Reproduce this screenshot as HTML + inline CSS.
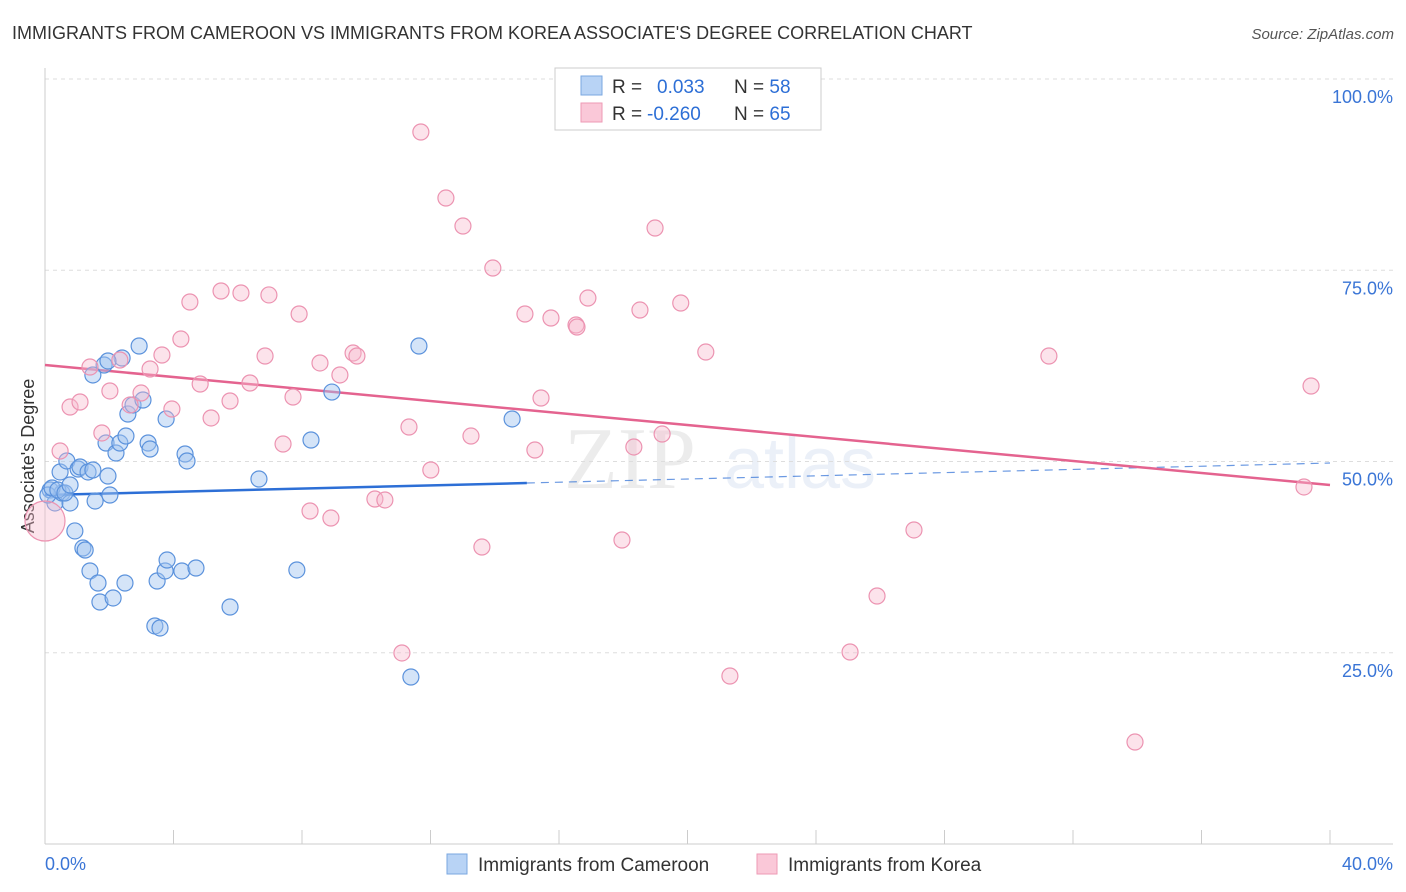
<!DOCTYPE html>
<html><head><meta charset="utf-8"><style>
body{margin:0;background:#fff;font-family:"Liberation Sans",sans-serif;}
svg{display:block}
</style></head><body>
<svg id="chart" width="1406" height="892" xmlns="http://www.w3.org/2000/svg">
<text x="12" y="39" font-size="18" fill="#333">IMMIGRANTS FROM CAMEROON VS IMMIGRANTS FROM KOREA ASSOCIATE'S DEGREE CORRELATION CHART</text>
<text x="1394" y="39" font-size="15" fill="#555" font-style="italic" text-anchor="end">Source: ZipAtlas.com</text>
<text transform="translate(34,456) rotate(-90)" font-size="18" fill="#333" text-anchor="middle">Associate's Degree</text>
<g opacity="0.13">
<text x="630" y="488" font-size="88" font-family="Liberation Serif,serif" fill="#777" text-anchor="middle">ZIP</text>
<text x="800" y="488" font-size="72" fill="#6a8fd0" text-anchor="middle">atlas</text>
</g>
<g id="grid"></g>
<g id="axes"></g>
<g id="trends"></g>
<g id="points"></g>
<g>
<rect x="555" y="68" width="266" height="62" fill="#fff" stroke="#ccc"/>
<rect x="581" y="76" width="21" height="19" fill="#b8d3f5" stroke="#7aa7e0"/>
<rect x="581" y="103" width="21" height="19" fill="#fac8d8" stroke="#ee9ab5"/>
<text x="612" y="93" font-size="19" fill="#333">R = <tspan x="657" fill="#2d6fd6">0.033</tspan><tspan x="734" fill="#333">N = </tspan><tspan fill="#2d6fd6">58</tspan></text>
<text x="612" y="120" font-size="19" fill="#333">R = <tspan x="647" fill="#2d6fd6">-0.260</tspan><tspan x="734" fill="#333">N = </tspan><tspan fill="#2d6fd6">65</tspan></text>
</g>
<g>
<rect x="447" y="854" width="20" height="20" fill="#b8d3f5" stroke="#7aa7e0"/>
<text x="478" y="871" font-size="19" fill="#333">Immigrants from Cameroon</text>
<rect x="757" y="854" width="20" height="20" fill="#fac8d8" stroke="#ee9ab5"/>
<text x="788" y="871" font-size="19" fill="#333">Immigrants from Korea</text>
</g>
</svg>
<script>
const blueX=[0.16,0.31,0.47,0.53,0.68,0.78,0.93,1.03,1.09,1.18,1.25,1.34,1.40,1.49,1.56,1.65,1.71,1.84,1.90,1.96,2.02,2.12,2.21,2.33,2.40,2.49,2.52,2.58,2.74,2.93,3.05,3.21,3.27,3.42,3.49,3.58,3.74,3.77,3.80,4.26,4.36,4.42,4.70,5.76,6.66,7.84,8.28,8.93,11.39,11.64,14.54,1.49,0.09,0.22,0.40,0.62,1.96,0.78];
const blueY=[46.27,44.58,48.63,45.88,50.07,44.58,40.92,49.02,49.28,38.69,38.43,48.63,35.69,48.89,44.84,34.12,31.63,62.61,52.42,48.10,45.62,32.16,51.11,52.42,63.53,34.12,53.33,56.21,57.39,65.10,58.04,52.42,51.63,28.50,34.38,28.24,35.69,55.56,37.12,35.69,50.98,50.07,36.08,30.98,47.71,35.82,52.81,59.08,21.83,65.10,55.56,61.31,45.62,46.54,46.27,45.88,63.14,46.93];
const pinkX=[0,0.47,0.78,1.09,1.40,1.77,2.02,2.33,2.65,2.99,3.27,3.64,3.95,4.23,4.51,4.83,5.17,5.48,5.76,6.10,6.38,6.85,6.97,7.41,7.72,7.91,8.25,8.56,8.90,9.18,9.59,9.71,10.27,10.58,11.11,11.33,11.70,12.01,12.48,13.01,13.26,13.60,13.94,14.94,15.25,15.44,15.75,16.53,16.56,16.90,17.96,18.33,18.52,18.99,19.21,19.79,20.57,21.32,25.06,25.90,27.05,31.25,33.93,39.19,39.41];
const pinkY=[42.22,51.37,57.12,57.78,62.35,53.73,59.22,63.27,57.39,58.95,62.09,63.92,56.86,66.01,70.85,60.13,55.69,72.29,57.91,72.03,60.26,63.79,71.77,52.29,58.43,69.28,43.53,62.88,42.61,61.31,64.18,63.79,45.10,44.97,24.97,54.51,93.07,48.89,84.44,80.78,53.33,38.82,75.29,69.28,51.50,58.30,68.76,67.84,67.58,71.37,39.74,51.90,69.80,80.52,53.59,70.72,64.31,21.96,25.10,32.42,41.05,63.79,13.33,46.67,59.87];
const blueTrendX=[0,15.0,40];
const blueTrendY=[45.62,47.19,49.8];
const pinkTrendX=[0,40];
const pinkTrendY=[62.61,46.93];
const yTicks=[25,50,75,100];
const xTicks=[0,4,8,12,16,20,24,28,32,36,40];

const NS='http://www.w3.org/2000/svg';
const sx=v=>45+v/40*1285;
const sy=v=>844-v/100*765;
function mk(tag,attrs,parent){const e=document.createElementNS(NS,tag);for(const k in attrs)e.setAttribute(k,attrs[k]);parent.appendChild(e);return e;}
const grid=document.getElementById('grid'),axes=document.getElementById('axes'),tr=document.getElementById('trends'),pts=document.getElementById('points');
yTicks.forEach(t=>{
 const l=mk('line',{x1:45,x2:1393,y1:sy(t),y2:sy(t),stroke:'#ddd','stroke-dasharray':'4,4'},grid);
 
 
 const tx=mk('text',{x:1393,y:sy(t)+24,'font-size':18,fill:'#3a75d6','text-anchor':'end'},axes);
 tx.textContent=t.toFixed(1)+'%';
 
 
});
let a=mk('line',{x1:45,x2:45,y1:68,y2:844,stroke:'#ccc'},axes);


a=mk('line',{x1:45,x2:1393,y1:844,y2:844,stroke:'#ccc'},axes);


xTicks.forEach(t=>{
 const l=mk('line',{x1:sx(t),x2:sx(t),y1:830,y2:844,stroke:'#ccc'},axes);
 
 
});
[[0,'start',45],[40,'end',1393]].forEach(([t,anc,x])=>{
 const tx=mk('text',{x:x,y:870,'font-size':18,fill:'#3a75d6','text-anchor':anc},axes);
 tx.textContent=t.toFixed(1)+'%';
 
 
});
let t1=mk('line',{x1:sx(blueTrendX[0]),y1:sy(blueTrendY[0]),x2:sx(blueTrendX[1]),y2:sy(blueTrendY[1]),stroke:'#2d6fd6','stroke-width':2.5},tr);


let t2=mk('line',{x1:sx(blueTrendX[1]),y1:sy(blueTrendY[1]),x2:sx(blueTrendX[2]),y2:sy(blueTrendY[2]),stroke:'#2d6fd6','stroke-width':1.2,'stroke-dasharray':'8,6',opacity:0.7},tr);


let t3=mk('line',{x1:sx(pinkTrendX[0]),y1:sy(pinkTrendY[0]),x2:sx(pinkTrendX[1]),y2:sy(pinkTrendY[1]),stroke:'#e4638f','stroke-width':2.5},tr);


blueX.forEach((x,i)=>{
 const c=mk('circle',{cx:sx(x),cy:sy(blueY[i]),r:8,fill:'rgba(160,195,240,0.45)',stroke:'#5b92dc','stroke-width':1.2},pts);
 
 
});
pinkX.forEach((x,i)=>{
 const c=mk('circle',{cx:sx(x),cy:sy(pinkY[i]),r:i===0?20:8,fill:'rgba(248,185,205,0.4)',stroke:'#ec93b1','stroke-width':1.2},pts);
 
 
});
</script>
</body></html>
